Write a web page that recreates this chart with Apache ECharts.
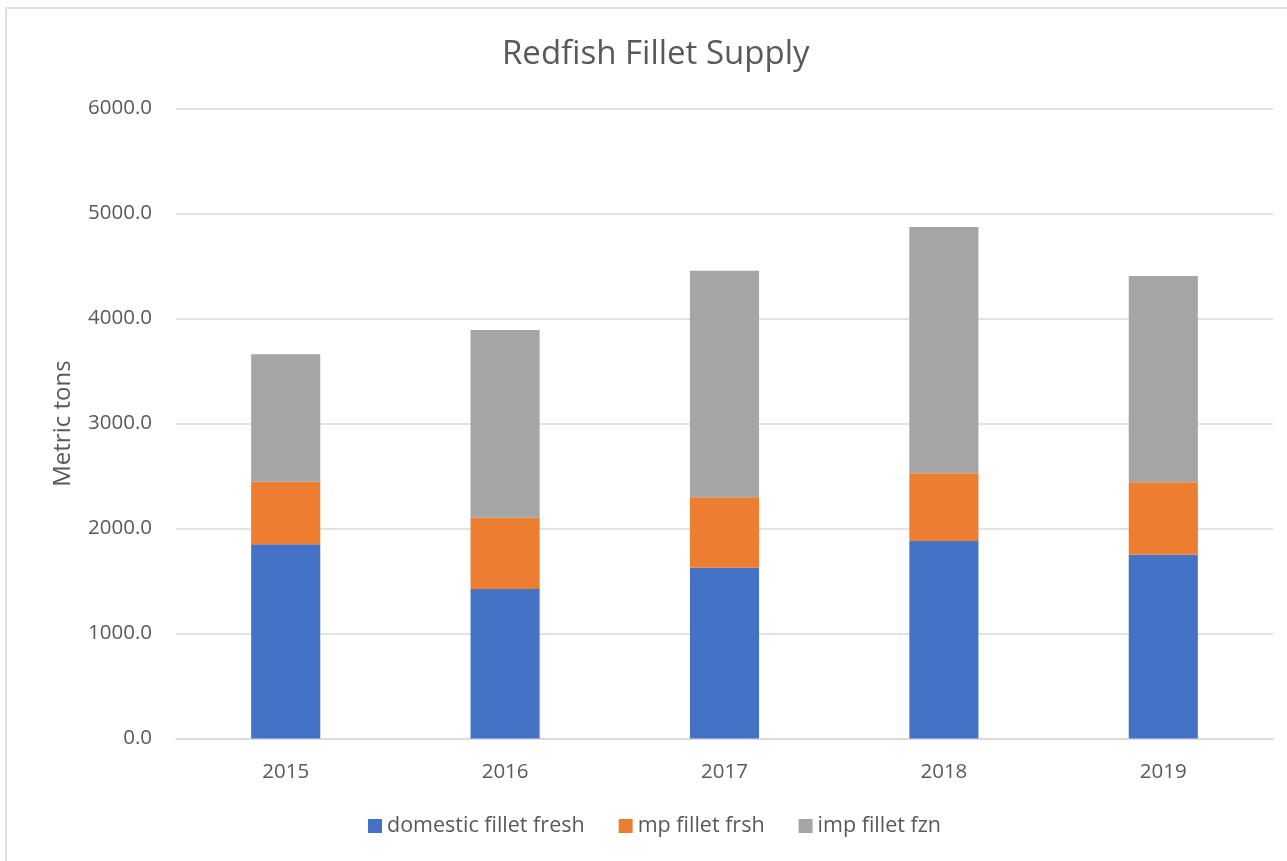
<!DOCTYPE html>
<html>
<head>
<meta charset="utf-8">
<script src="https://cdn.jsdelivr.net/npm/echarts@6/dist/echarts.min.js"></script>
<style>
  html, body { margin: 0; padding: 0; background: #fff; overflow: hidden; }
  #frame { position: absolute; left: 5px; top: 7px; width: 1300px; height: 880px; border: 2px solid #e0e0e0; box-sizing: border-box; }
  #chart { position: absolute; left: 0; top: 0; width: 1287px; height: 861px; }
</style>
</head>
<body>
<div id="frame"></div>
<div id="chart"></div>
<script>
  // values (metric tons)
  var years = ['2015', '2016', '2017', '2018', '2019'];
  var domesticFresh = [1850, 1425, 1628, 1882, 1751];
  var mpFresh = [597, 679, 670, 645, 690];
  var impFrozen = [1213, 1787, 2158, 2345, 1965];
  var yTicks = [0, 1000, 2000, 3000, 4000, 5000, 6000];

  var textColor = '#595959';
  var font = '"Open Sans", "Noto Sans", sans-serif';

  var chart = echarts.init(document.getElementById('chart'));

  function barSeries(name, data, color) {
    return {
      name: name,
      type: 'bar',
      stack: 'supply',
      barWidth: '31.5%',
      data: data,
      itemStyle: { color: color },
      emphasis: { disabled: true }
    };
  }

  var option = {
    animation: false,
    title: {
      text: 'Redfish Fillet Supply',
      left: 497,
      top: 33,
      textStyle: { color: textColor, fontFamily: font, fontSize: 33, fontWeight: 'normal' }
    },
    grid: { left: 176, right: 14, top: 108.6, bottom: 122.4, containLabel: false },
    legend: {
      bottom: 19,
      left: 363,
      itemWidth: 14,
      itemHeight: 14,
      itemGap: 34,
      icon: 'rect',
      textStyle: { color: textColor, fontFamily: font, fontSize: 21.5 },
      data: ['domestic fillet fresh', 'mp fillet frsh', 'imp fillet fzn']
    },
    xAxis: {
      type: 'category',
      data: years,
      axisLine: { lineStyle: { color: '#d9d9d9', width: 1.5 } },
      axisTick: { show: false },
      axisLabel: { color: textColor, fontFamily: font, fontSize: 20.5, margin: 23 }
    },
    yAxis: {
      type: 'value',
      min: yTicks[0],
      max: yTicks[yTicks.length - 1],
      interval: 1000,
      name: 'Metric tons',
      nameLocation: 'middle',
      nameGap: 101,
      nameTextStyle: { color: textColor, fontFamily: font, fontSize: 24 },
      axisLine: { show: false },
      axisTick: { show: false },
      splitLine: { lineStyle: { color: '#d9d9d9', width: 1.5 } },
      axisLabel: {
        color: textColor, fontFamily: font, fontSize: 20.5, margin: 24,
        formatter: function (v) { return v.toFixed(1); }
      }
    },
    series: [
      barSeries('domestic fillet fresh', domesticFresh, '#4472c4'),
      barSeries('mp fillet frsh', mpFresh, '#ed7d31'),
      barSeries('imp fillet fzn', impFrozen, '#a5a5a5')
    ]
  };

  chart.setOption(option);
</script>
</body>
</html>
